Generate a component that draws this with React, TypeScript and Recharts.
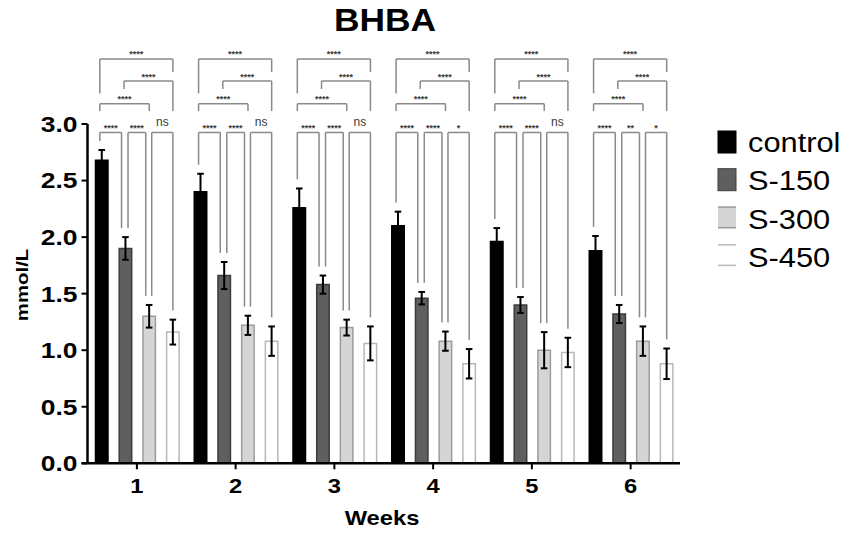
import React from "react";
import { ComposedChart, Bar, XAxis, YAxis, ErrorBar, ReferenceLine } from "recharts";

// values (mmol/L, mean and error)
const weeks = ["1", "2", "3", "4", "5", "6"];
const control = [2.68, 2.4, 2.26, 2.1, 1.96, 1.88];
const controlErr = [0.09, 0.16, 0.17, 0.125, 0.12, 0.13];
const s150 = [1.9, 1.66, 1.58, 1.46, 1.4, 1.32];
const s150Err = [0.1, 0.12, 0.08, 0.055, 0.07, 0.08];
const s300 = [1.3, 1.22, 1.2, 1.08, 1.0, 1.08];
const s300Err = [0.1, 0.085, 0.07, 0.085, 0.16, 0.13];
const s450 = [1.16, 1.08, 1.06, 0.88, 0.98, 0.88];
const s450Err = [0.11, 0.13, 0.15, 0.13, 0.13, 0.135];
const yTicks = [0, 0.5, 1, 1.5, 2, 2.5, 3];

// significance marks per week
const sigCtrlS150 = ["****", "****", "****", "****", "****", "****"];
const sigS150S300 = ["****", "****", "****", "****", "****", "**"];
const sigS300S450 = ["ns", "ns", "ns", "*", "ns", "*"];
const sigCtrlS300 = ["****", "****", "****", "****", "****", "****"];
const sigS150S450 = ["****", "****", "****", "****", "****", "****"];
const sigCtrlS450 = ["****", "****", "****", "****", "****", "****"];

const rows = weeks.map((w, i) => ({
  week: w,
  pos: i + 1,
  control: control[i],
  controlErr: controlErr[i],
  s150: s150[i],
  s150Err: s150Err[i],
  s300: s300[i],
  s300Err: s300Err[i],
  s450: s450[i],
  s450Err: s450Err[i],
}));

const series = [
  { key: "control", name: "control", fill: "#000000", stroke: "#000000" },
  { key: "s150", name: "S-150", fill: "#5f5f5f", stroke: "#3c3c3c" },
  { key: "s300", name: "S-300", fill: "#d5d5d5", stroke: "#9c9c9c" },
  { key: "s450", name: "S-450", fill: "#ffffff", stroke: "#b8b8b8" },
];

// layout
const W = 851;
const H = 534;
const PLOT_LEFT = 87.5;
const PLOT_RIGHT = 680;
const PLOT_TOP = 124;
const PLOT_BOTTOM = 463.3;
const BAND = (PLOT_RIGHT - PLOT_LEFT) / weeks.length;
const BAR_SIZE = 12.5;
const BAR_GAP = 11.2;
const STEP = BAR_SIZE + BAR_GAP;
const FONT = "'Liberation Sans', Arial, sans-serif";
const LINE = "#8a8a8a";

// bracket shapes: bar index + pixel nudge for each leg, heights in axis units
// aBot/bBot null = leg hangs down to just above that bar's error bar
const brackets = [
  { a: 0, an: -1.5, b: 1, bn: -3.5, top: 2.925, aBot: null, bBot: null, sig: sigCtrlS150 },
  { a: 1, an: 3, b: 2, bn: -3, top: 2.925, aBot: null, bBot: null, sig: sigS150S300 },
  { a: 2, an: 3, b: 3, bn: 0.5, top: 2.925, aBot: null, bBot: null, sig: sigS300S450 },
  { a: 0, an: -1.5, b: 2, bn: 0.5, top: 3.18, aBot: 3.115, bBot: 3.115, sig: sigCtrlS300 },
  { a: 1, an: -1, b: 3, bn: 0.5, top: 3.38, aBot: 3.31, bBot: 3.115, sig: sigS150S450 },
  { a: 0, an: -1.5, b: 3, bn: 0.5, top: 3.575, aBot: 3.27, bBot: 3.46, sig: sigCtrlS450 },
];

const barPos = (i: number, idx: number, nudge: number) =>
  i + 1 + ((idx - 1.5) * STEP + nudge) / BAND;

function YTick(props: any) {
  const { x, y, payload } = props;
  return (
    <text
      transform={`translate(${x},${y}) scale(1.2,1)`}
      textAnchor="end"
      dy="0.36em"
      fontSize={22}
      fontWeight="bold"
      fontFamily={FONT}
      fill="#000"
    >
      {Number(payload.value).toFixed(1)}
    </text>
  );
}

function XTick(props: any) {
  const { x, y, payload } = props;
  return (
    <text
      transform={`translate(${x},${y}) scale(1.13,1)`}
      textAnchor="middle"
      dy={22}
      fontSize={21}
      fontWeight="bold"
      fontFamily={FONT}
      fill="#000"
    >
      {payload.value}
    </text>
  );
}

function bracketLines() {
  const out: React.ReactNode[] = [];
  const common = {
    xAxisId: "num",
    stroke: LINE,
    strokeWidth: 1.5,
    ifOverflow: "visible" as const,
  };
  weeks.forEach((_, i) => {
    const tops = [
      control[i] + controlErr[i],
      s150[i] + s150Err[i],
      s300[i] + s300Err[i],
      s450[i] + s450Err[i],
    ];
    brackets.forEach((b, j) => {
      const xa = barPos(i, b.a, b.an);
      const xb = barPos(i, b.b, b.bn);
      const ya = b.aBot ?? tops[b.a] + 0.08;
      const yb = b.bBot ?? tops[b.b] + 0.08;
      const text = b.sig[i];
      const ns = text === "ns";
      out.push(
        <ReferenceLine key={`l${i}-${j}`} {...common} segment={[{ x: xa, y: ya }, { x: xa, y: b.top }]} />,
        <ReferenceLine
          key={`t${i}-${j}`}
          {...common}
          segment={[{ x: xa, y: b.top }, { x: xb, y: b.top }]}
          label={{
            value: text,
            position: "top",
            offset: ns ? 6 : 1.5,
            fontSize: ns ? 12 : 9,
            fontWeight: ns ? "normal" : "bold",
            fill: "#3a3a3a",
            fontFamily: FONT,
          }}
        />,
        <ReferenceLine key={`r${i}-${j}`} {...common} segment={[{ x: xb, y: b.top }, { x: xb, y: yb }]} />
      );
    });
  });
  return out;
}

export default function App() {
  return (
    <div style={{ position: "absolute", left: 0, top: 0, width: W, height: H, background: "#fff" }}>
      <ComposedChart
        width={W}
        height={H}
        data={rows}
        margin={{ top: PLOT_TOP, right: W - PLOT_RIGHT, bottom: H - PLOT_BOTTOM - 30, left: 0 }}
        barSize={BAR_SIZE}
        barGap={BAR_GAP}
      >
        <XAxis
          dataKey="week"
          height={30}
          axisLine={{ stroke: "#000", strokeWidth: 2.5 }}
          tickLine={{ stroke: "#000", strokeWidth: 2 }}
          tickSize={6}
          tickMargin={2}
          tick={<XTick />}
        />
        <XAxis xAxisId="num" dataKey="pos" type="number" domain={[0.5, 6.5]} allowDataOverflow hide />
        <YAxis
          domain={[0, 3]}
          ticks={yTicks}
          width={PLOT_LEFT}
          axisLine={{ stroke: "#000", strokeWidth: 2.5 }}
          tickLine={{ stroke: "#000", strokeWidth: 2 }}
          tickSize={6}
          tickMargin={4}
          tick={<YTick />}
          allowDataOverflow
        />
        {/* the x axis line runs a little past the y axis */}
        <ReferenceLine
          xAxisId="num"
          segment={[{ x: 0.44, y: 0 }, { x: 0.5, y: 0 }]}
          stroke="#000"
          strokeWidth={2.5}
          ifOverflow="visible"
        />
        {series.map((s) => (
          <Bar
            key={s.key}
            dataKey={s.key}
            name={s.name}
            fill={s.fill}
            stroke={s.stroke}
            strokeWidth={1.5}
            isAnimationActive={false}
          >
            {/* width here is the half-length of the caps */}
            <ErrorBar dataKey={`${s.key}Err`} width={3.3} stroke="#000" strokeWidth={2} />
          </Bar>
        ))}
        {bracketLines()}
      </ComposedChart>

      <svg
        width={W}
        height={H}
        style={{ position: "absolute", left: 0, top: 0, pointerEvents: "none" }}
      >
        <text
          transform="translate(385,31) scale(1.14,1)"
          textAnchor="middle"
          fontSize={31}
          fontWeight="bold"
          fontFamily={FONT}
        >
          BHBA
        </text>
        <text
          transform="translate(382,525) scale(1.13,1)"
          textAnchor="middle"
          fontSize={21}
          fontWeight="bold"
          fontFamily={FONT}
        >
          Weeks
        </text>
        <text
          transform="translate(28,285) rotate(-90) scale(1.2,1)"
          textAnchor="middle"
          fontSize={17}
          fontWeight="bold"
          fontFamily={FONT}
        >
          mmol/L
        </text>
        {series.map((s, i) => {
          const y = 131 + i * 37.7;
          const light = i >= 2;
          return (
            <g key={s.key}>
              <rect
                x={718}
                y={y}
                width={18}
                height={22}
                fill={s.fill}
                stroke={light ? "none" : s.stroke}
                strokeWidth={1}
              />
              {light && (
                <g stroke={s.stroke} strokeWidth={1.5}>
                  <line x1={718} x2={736} y1={y + 0.75} y2={y + 0.75} />
                  <line x1={718} x2={736} y1={y + 21.25} y2={y + 21.25} />
                </g>
              )}
              <text
                transform={`translate(748,${152 + i * 38.3}) scale(1.1,1)`}
                fontSize={28}
                fontFamily={FONT}
                fill="#000"
              >
                {s.name}
              </text>
            </g>
          );
        })}
      </svg>
    </div>
  );
}
